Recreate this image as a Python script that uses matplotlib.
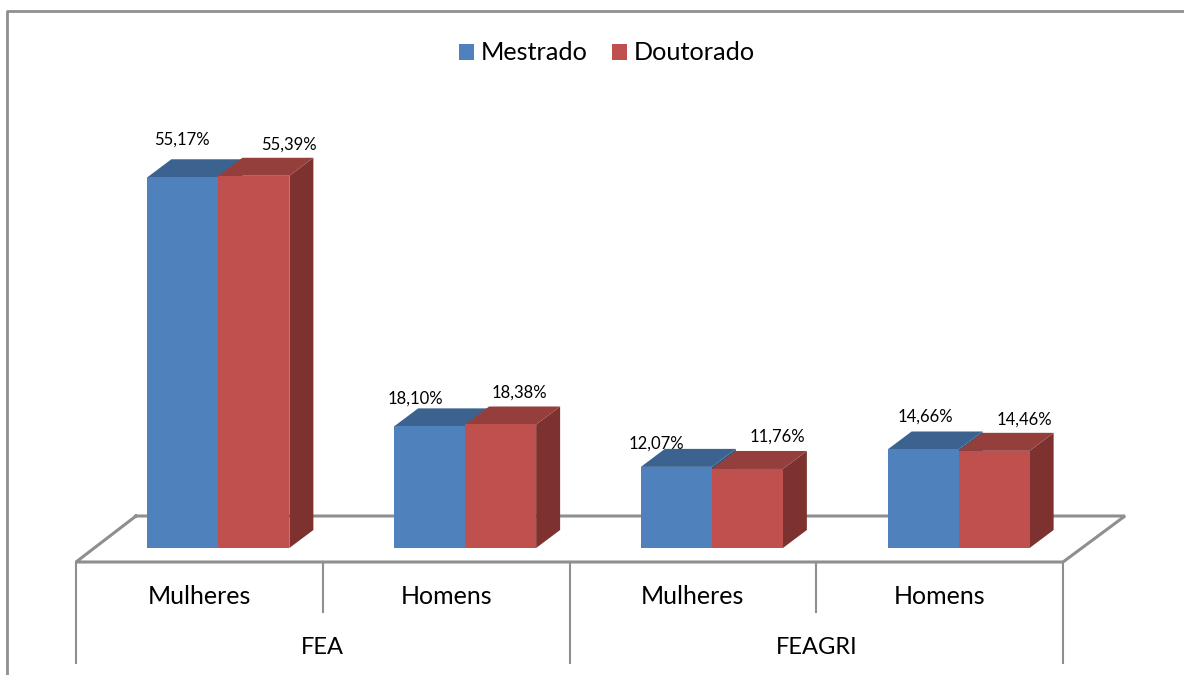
import numpy as np
import matplotlib.pyplot as plt
from matplotlib.patches import Patch, Polygon

plt.rcParams['font.family'] = ['Lato', 'DejaVu Sans']

groups = ['FEA', 'FEAGRI']
categories = ['Mulheres', 'Homens', 'Mulheres', 'Homens']
mestrado = [55.17, 18.10, 12.07, 14.66]
doutorado = [55.39, 18.38, 11.76, 14.46]
series_names = ['Mestrado', 'Doutorado']

# colours: front, top, side
blue = ['#4f81bd', '#3c6390', '#34567d']
red = ['#c0504d', '#953f3c', '#7d3230']
gray = '#8f8f8f'

W, H = 1184, 675
PX_X = 246.75  # pixels per category
PX_Y = 6.72    # pixels per percent
X0 = 76        # pixel of the left axis end
Y0 = 548       # pixel of the bar base


def dx(p):
    return p / PX_X


def dy(p):
    return p / PX_Y


def xd(p):
    return (p - X0) / PX_X - 0.5


def yd(p):
    return (Y0 - p) / PX_Y


fig = plt.figure(figsize=(W / 100, H / 100), dpi=100)
ax = fig.add_axes([0, 0, 1, 1])
ax.set_xlim(xd(0), xd(W))
ax.set_ylim(yd(H), yd(0))
ax.axis('off')

# outer frame, only top and left are visible
ax.plot([xd(7), xd(7), xd(W)], [yd(H), yd(11), yd(11)], color=gray, lw=2.0, zorder=1, solid_capstyle='butt')

# floor
ax.plot([xd(136), xd(76), xd(1063), xd(1125), xd(136)],
        [yd(516), yd(562), yd(562), yd(516), yd(516)],
        color=gray, lw=2.2, zorder=1, solid_joinstyle='miter')

# axis separators
for i, pos in enumerate(np.arange(5) - 0.5):
    bottom = 663 if i % 2 == 0 else 612
    ax.plot([pos, pos], [yd(562), yd(bottom)], color=gray, lw=1.5, zorder=1)

x = np.arange(len(categories))
bw = dx(71)
shift = dx(19)
depth_x = dx(24)
depth_y = dy(18)

for i in x:
    c = i + shift
    # blue first, red sits in front of its side
    for left, val, cols, z in ((c - bw, mestrado[i], blue, 3), (c, doutorado[i], red, 4)):
        right = left + bw
        ax.add_patch(Polygon([[right, 0], [right + depth_x, depth_y],
                              [right + depth_x, val + depth_y], [right, val]],
                             fc=cols[2], ec='none', zorder=z))
        ax.add_patch(Polygon([[left, val], [left + depth_x, val + depth_y],
                              [right + depth_x, val + depth_y], [right, val]],
                             fc=cols[1], ec='none', zorder=z))
    ax.bar(c - bw / 2, mestrado[i], bw, color=blue[0], zorder=3.5)
    ax.bar(c + bw / 2, doutorado[i], bw, color=red[0], zorder=4.5)

# data labels were placed by hand in the original (pixel offsets from bar centre / top)
offs_m = [(-1, 38), (-14, 28), (-20, 23), (2, 33)]
offs_d = [(35, 31), (19, 32), (30, 32), (30, 31)]
for i in x:
    c = i + shift
    ax.text(c - bw / 2 + dx(offs_m[i][0]), mestrado[i] + dy(offs_m[i][1]),
            f'{mestrado[i]:.2f}%'.replace('.', ','), ha='center', va='center', fontsize=12, color='black', zorder=2)
    ax.text(c + bw / 2 + dx(offs_d[i][0]), doutorado[i] + dy(offs_d[i][1]),
            f'{doutorado[i]:.2f}%'.replace('.', ','), ha='center', va='center', fontsize=12, color='black', zorder=2)

# category labels
for i, name in enumerate(categories):
    ax.text(i, yd(596), name, ha='center', va='center', fontsize=18, color='black')
for i, name in enumerate(groups):
    ax.text(0.5 + 2 * i, yd(647), name, ha='center', va='center', fontsize=17, color='black')

handles = [Patch(fc=blue[0]), Patch(fc=red[0])]
ax.legend(handles, series_names, loc='center', bbox_to_anchor=(607 / W, 1 - 53 / H),
          ncol=2, frameon=False, fontsize=18.2, handlelength=0.6, handleheight=0.6,
          handletextpad=0.27, columnspacing=0.95)

fig.savefig('out.png', dpi=100)
